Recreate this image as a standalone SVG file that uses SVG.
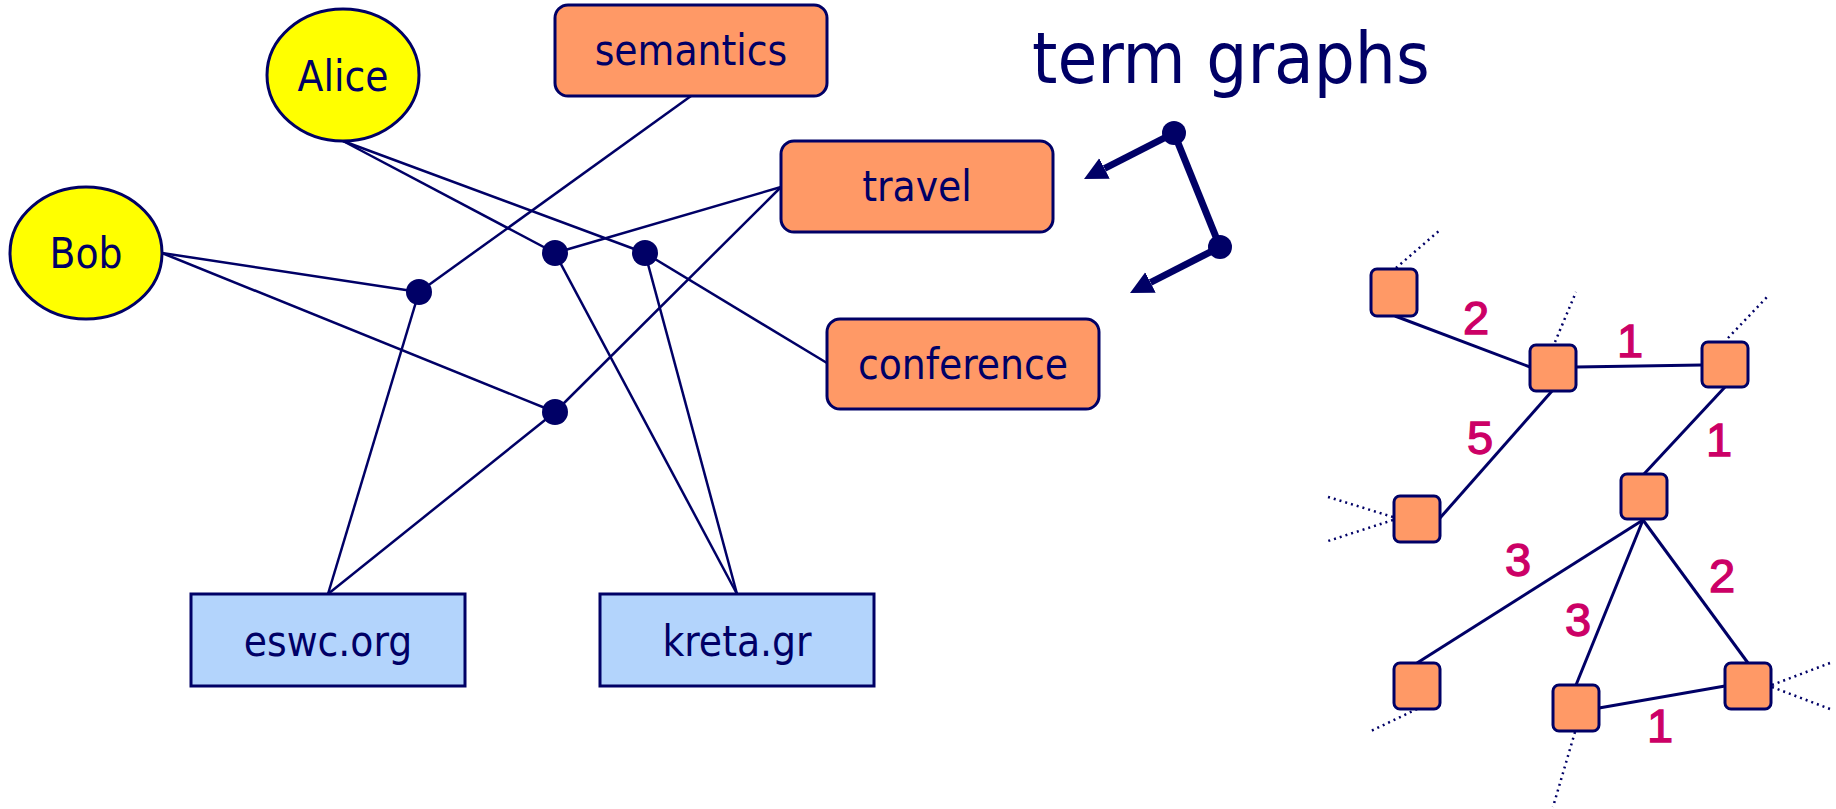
<svg xmlns="http://www.w3.org/2000/svg" width="1836" height="809" viewBox="0 0 1836 809">
<style>
.ln{stroke:#000066;stroke-width:2.5;fill:none}
.ed{stroke:#000066;stroke-width:3;fill:none}
.dt{stroke:#000066;stroke-width:2.5;stroke-dasharray:2 4;fill:none}
.person{fill:#FFFF00;stroke:#000066;stroke-width:3}
.term{fill:#FF9966;stroke:#000066;stroke-width:3}
.site{fill:#B3D4FC;stroke:#000066;stroke-width:3}
.sq{fill:#FF9966;stroke:#000066;stroke-width:3}
.hub{fill:#000066}
text{font-family:"DejaVu Sans Condensed","DejaVu Sans","Liberation Sans",sans-serif;font-stretch:condensed}
.lbl{font-size:42px;fill:#000066;text-anchor:middle}
.num{font-family:"Liberation Sans",Arial,sans-serif;font-stretch:normal;font-size:47px;fill:#CC0066;stroke:#CC0066;stroke-width:1.3;text-anchor:middle}
.title{font-size:72px;fill:#000066}
</style>
<defs>
<marker id="head" markerUnits="userSpaceOnUse" markerWidth="24" markerHeight="24" refX="0" refY="11.5" orient="auto">
<path d="M0,0 L23,11.5 L0,23 Z" fill="#000066"/>
</marker>
</defs>

<g id="connectors">
<line class="ln" x1="691" y1="96" x2="419" y2="292"/>
<line class="ln" x1="343" y1="141" x2="555" y2="253"/>
<line class="ln" x1="343" y1="141" x2="645" y2="253"/>
<line class="ln" x1="555" y1="253" x2="781" y2="187"/>
<line class="ln" x1="555" y1="412" x2="781" y2="187"/>
<line class="ln" x1="645" y1="253" x2="827" y2="363"/>
<line class="ln" x1="162" y1="253" x2="419" y2="292"/>
<line class="ln" x1="162" y1="253" x2="555" y2="412"/>
<line class="ln" x1="419" y1="292" x2="328" y2="594"/>
<line class="ln" x1="555" y1="412" x2="328" y2="594"/>
<line class="ln" x1="555" y1="253" x2="737" y2="594"/>
<line class="ln" x1="645" y1="253" x2="737" y2="594"/>
</g>

<g id="hubs">
<circle class="hub" cx="419" cy="292" r="13"/>
<circle class="hub" cx="555" cy="253" r="13"/>
<circle class="hub" cx="645" cy="253" r="13"/>
<circle class="hub" cx="555" cy="412" r="13"/>
</g>

<g id="alice"><ellipse class="person" cx="343" cy="75" rx="76" ry="66"/><text class="lbl" x="343" y="91">Alice</text></g>
<g id="bob"><ellipse class="person" cx="86" cy="253" rx="76" ry="66"/><text class="lbl" x="86" y="268">Bob</text></g>
<g id="semantics"><rect class="term" x="555" y="5" width="272" height="91" rx="13"/><text class="lbl" x="691" y="65">semantics</text></g>
<g id="travel"><rect class="term" x="781" y="141" width="272" height="91" rx="13"/><text class="lbl" x="917" y="201">travel</text></g>
<g id="conference"><rect class="term" x="827" y="319" width="272" height="90" rx="13"/><text class="lbl" x="963" y="379">conference</text></g>
<g id="eswc"><rect class="site" x="191" y="594" width="274" height="92"/><text class="lbl" x="328" y="656">eswc.org</text></g>
<g id="kreta"><rect class="site" x="600" y="594" width="274" height="92"/><text class="lbl" x="737" y="656">kreta.gr</text></g>

<g id="title"><text class="title" x="1032" y="83">term graphs</text></g>

<g id="arrow-glyph">
<line x1="1174" y1="133" x2="1220" y2="247" stroke="#000066" stroke-width="7"/>
<line x1="1174" y1="133" x2="1104.5" y2="168.5" stroke="#000066" stroke-width="7" marker-end="url(#head)"/>
<line x1="1220" y1="247" x2="1150.5" y2="282.5" stroke="#000066" stroke-width="7" marker-end="url(#head)"/>
<circle class="hub" cx="1174" cy="133" r="12"/>
<circle class="hub" cx="1220" cy="247" r="12"/>
</g>

<g id="term-graph-edges">
<line class="ed" x1="1395" y1="316" x2="1530" y2="367"/>
<line class="ed" x1="1576" y1="367" x2="1702" y2="365"/>
<line class="ed" x1="1552" y1="391" x2="1440" y2="518"/>
<line class="ed" x1="1725" y1="387" x2="1644" y2="474"/>
<line class="ed" x1="1643" y1="520" x2="1417" y2="663"/>
<line class="ed" x1="1643" y1="520" x2="1576" y2="685"/>
<line class="ed" x1="1643" y1="520" x2="1748" y2="663"/>
<line class="ed" x1="1599" y1="708" x2="1725" y2="686"/>
<line class="dt" x1="1396" y1="268" x2="1440" y2="230"/>
<line class="dt" x1="1555" y1="342" x2="1576" y2="292"/>
<line class="dt" x1="1728" y1="338" x2="1768" y2="296"/>
<line class="dt" x1="1393" y1="517" x2="1325" y2="496"/>
<line class="dt" x1="1393" y1="520" x2="1325" y2="542"/>
<line class="dt" x1="1417" y1="709" x2="1371" y2="731"/>
<line class="dt" x1="1575" y1="732" x2="1553" y2="807"/>
<line class="dt" x1="1772" y1="685" x2="1830" y2="663"/>
<line class="dt" x1="1772" y1="687" x2="1830" y2="709"/>
</g>

<g id="tn1"><rect class="sq" x="1371" y="269" width="46" height="47" rx="6"/></g>
<g id="tn2"><rect class="sq" x="1530" y="345" width="46" height="46" rx="6"/></g>
<g id="tn3"><rect class="sq" x="1702" y="342" width="46" height="45" rx="6"/></g>
<g id="tn4"><rect class="sq" x="1394" y="496" width="46" height="46" rx="6"/></g>
<g id="tn5"><rect class="sq" x="1621" y="474" width="46" height="45" rx="6"/></g>
<g id="tn6"><rect class="sq" x="1394" y="663" width="46" height="46" rx="6"/></g>
<g id="tn7"><rect class="sq" x="1553" y="685" width="46" height="46" rx="6"/></g>
<g id="tn8"><rect class="sq" x="1725" y="663" width="46" height="46" rx="6"/></g>

<g id="weights">
<text class="num" x="1476" y="334">2</text>
<text class="num" x="1630" y="357">1</text>
<text class="num" x="1480" y="454">5</text>
<text class="num" x="1719" y="456">1</text>
<text class="num" x="1518" y="576">3</text>
<text class="num" x="1578" y="636">3</text>
<text class="num" x="1722" y="592">2</text>
<text class="num" x="1660" y="742">1</text>
</g>
</svg>
